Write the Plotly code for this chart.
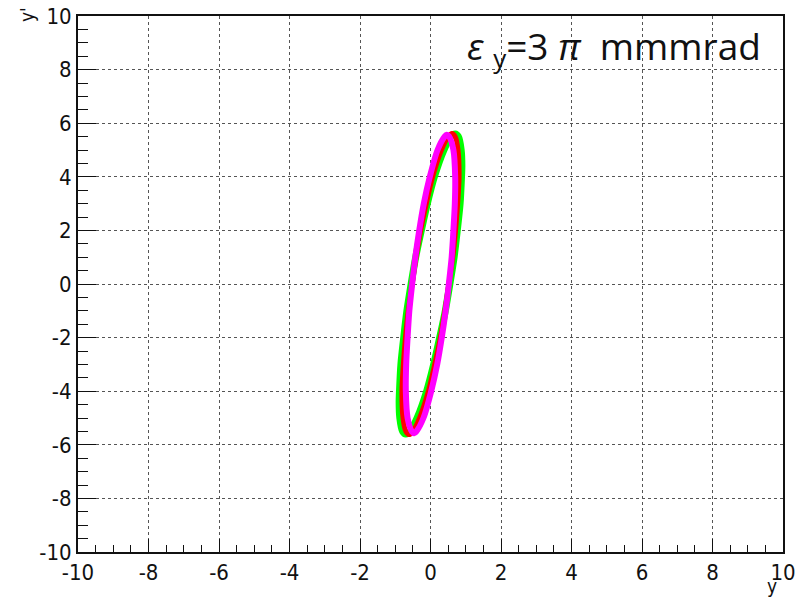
import plotly.graph_objects as go

# Phase-space ellipses (y [mm], y' [mrad]) traced clockwise from the top point
green_yp = [5.6, 5.5, 5.0, 4.4, 4.0, 3.0, 2.0, 1.0, 0.0, -1.0, -2.0, -3.0, -4.0, -5.0, -5.5,
            -5.6, -5.5, -5.0, -4.4, -4.0, -3.0, -2.0, -1.0, 0.0, 1.0, 2.0, 3.0, 4.0, 5.0, 5.5]
green_y = [0.70, 0.79, 0.87, 0.89, 0.88, 0.84, 0.76, 0.67, 0.55, 0.42, 0.26, 0.09, -0.11, -0.38, -0.58,
           -0.70, -0.79, -0.87, -0.89, -0.88, -0.84, -0.76, -0.67, -0.55, -0.42, -0.26, -0.09, 0.11, 0.38, 0.58]

red_yp = [5.62, 5.5, 5.0, 4.0, 3.0, 2.0, 1.0, 0.0, -1.0, -2.0, -3.0, -4.0, -5.0, -5.5,
          -5.62, -5.5, -5.0, -4.0, -3.0, -2.0, -1.0, 0.0, 1.0, 2.0, 3.0, 4.0, 5.0, 5.5]
red_y = [0.61, 0.70, 0.78, 0.81, 0.77, 0.71, 0.63, 0.52, 0.41, 0.28, 0.12, -0.06, -0.31, -0.50,
         -0.61, -0.70, -0.78, -0.81, -0.77, -0.71, -0.63, -0.52, -0.41, -0.28, -0.12, 0.06, 0.31, 0.50]

magenta_yp = [5.57, 5.5, 5.0, 4.0, 3.0, 2.0, 1.0, 0.0, -1.0, -2.0, -3.0, -4.0, -5.0, -5.5,
              -5.57, -5.5, -5.0, -4.0, -3.0, -2.0, -1.0, 0.0, 1.0, 2.0, 3.0, 4.0, 5.0, 5.5]
magenta_y = [0.46, 0.53, 0.65, 0.70, 0.69, 0.65, 0.60, 0.52, 0.43, 0.32, 0.19, 0.02, -0.20, -0.40,
             -0.46, -0.53, -0.65, -0.70, -0.69, -0.65, -0.60, -0.52, -0.43, -0.32, -0.19, -0.02, 0.20, 0.40]

tick_vals = [-10, -8, -6, -4, -2, 0, 2, 4, 6, 8, 10]
tick_text = [str(v) for v in tick_vals]

label_font = dict(family="DejaVu Sans Condensed, Liberation Sans Narrow, Arial Narrow, sans-serif",
                  size=22, color="#111")
title_font = dict(label_font, size=19)


def closed(xs, ys):
    return xs + xs[:1], ys + ys[:1]


fig = go.Figure()
for xs, ys, col, w in [(green_y, green_yp, "#00ff00", 7),
                       (red_y, red_yp, "#ff0000", 5),
                       (magenta_y, magenta_yp, "#ff00ff", 6)]:
    cx, cy = closed(xs, ys)
    fig.add_trace(go.Scatter(x=cx, y=cy, mode="lines",
                             line=dict(color=col, width=w, shape="spline", smoothing=0.8),
                             hoverinfo="skip", showlegend=False))

axis_common = dict(
    range=[-10, 10], tickmode="array", tickvals=tick_vals, ticktext=tick_text,
    ticks="inside", tickcolor="#111", tickwidth=1, automargin=False,
    showline=True, mirror=True, linecolor="#111", linewidth=2,
    showgrid=True, gridcolor="#555", griddash="dot", gridwidth=1,
    zeroline=False, tickfont=label_font,
)

fig.update_xaxes(**axis_common, ticklen=13,
                 minor=dict(dtick=0.5, tick0=0, ticks="inside", ticklen=7,
                            tickcolor="#111", showgrid=False))
fig.update_yaxes(**axis_common, ticklen=18,
                 minor=dict(dtick=0.5, tick0=0, ticks="inside", ticklen=10,
                            tickcolor="#111", showgrid=False))

sp = "&nbsp;"
fig.update_layout(
    width=799, height=599,
    margin=dict(l=78, r=16, t=16, b=47),
    paper_bgcolor="white", plot_bgcolor="white",
    annotations=[
        dict(text=f"<i>ε</i>{sp}<sub>y</sub>=3{sp}<i>π</i>{sp}{sp}mmmrad", xref="paper", yref="paper",
             x=0.972, y=0.997, xanchor="right", yanchor="top", showarrow=False,
             font=dict(family="Open Sans, Noto Sans, sans-serif", size=37, color="#111")),
        dict(text="y", xref="paper", yref="paper", x=0.995, y=-0.0877,
             xanchor="right", yanchor="bottom", showarrow=False, font=title_font),
        dict(text="y'", xref="paper", yref="paper", x=-0.072, y=1.02,
             xanchor="center", yanchor="top", textangle=-90, showarrow=False, font=title_font),
    ],
)

fig.write_html("out.html")
